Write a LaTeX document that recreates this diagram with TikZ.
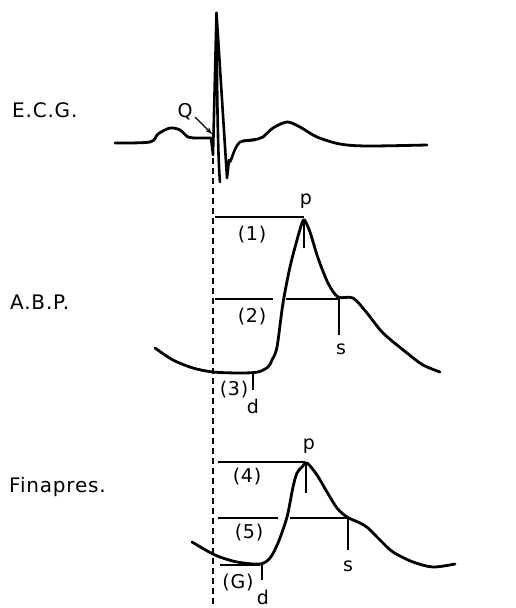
\documentclass[tikz,border=0pt]{standalone}
\usepackage{fontspec}
\setmainfont{DejaVu Sans}[LetterSpace=4]
\usetikzlibrary{arrows.meta}
\begin{document}
\begin{tikzpicture}[x=1pt,y=-1pt,
  trace/.style={line width=2.8pt,line join=round,line cap=round},
  spike/.style={line width=2.6pt,line join=round,line cap=round},
  fine/.style={line width=1.1pt},
  guide/.style={line width=1.1pt,dash pattern=on 6pt off 4pt},
  lbl/.style={font=\fontsize{19}{19}\selectfont,inner sep=0pt},
  side/.style={font=\fontsize{20}{20}\selectfont,inner sep=0pt,anchor=west}]
\useasboundingbox (0,0) rectangle (515,608);
% side labels
\node[side] (ecg) at (12,110) {E.C.G.};
\node[side] (abp) at (10,302) {A.B.P.};
\node[side] (fin) at (9,487) {Finapres.};
% dashed guide
\coordinate (gtop) at (213,158);
\coordinate (gbot) at (213,608);
\draw[guide] (gtop) -- (gbot);
% ECG
\draw[trace] plot[smooth,tension=0.5] coordinates {(115,143) (150,142) (158,134) (170,128) (180,130) (188,137) (197,138) (211,138)};
\draw[spike] (211,138) -- (213,155) -- (216.5,13) -- (227,178) -- (229,160) to[out=-80,in=180] (243,141) -- (255,140);
\draw[spike] (216.5,13) .. controls (217,100) and (218,160) .. (220,182);
\draw[trace] plot[smooth,tension=0.5] coordinates {(243,141) (258,139) (263,137) (273,128) (287,122) (300,127) (317,137) (340,144) (367,146) (427,145)};
\node[lbl] (q) at (185,112) {Q};
\coordinate (qa) at (195,117);
\coordinate (qb) at (212,134);
\draw[line width=1.3pt,-{Stealth[length=7pt,width=5pt]}] (qa) -- (qb);
% ABP
\draw[trace] plot[smooth,tension=0.5] coordinates {(155,348) (173,360) (193,368) (213,372) (240,373) (258,372) (268,367) (272,360) (277,347) (283,303) (290,267) (297,240) (302,223) (304.5,220) (310,232) (318,258) (328,283) (338,297) (353,298) (367,313) (383,333) (407,353) (423,365) (440,372)};
\draw[fine] (215,217) -- (304,217);
\draw[fine] (304,220) -- (304,248);
\draw[fine] (215,299) -- (273,299);
\draw[fine] (286,299) -- (339,299);
\draw[fine] (339,299) -- (339,335);
\draw[fine] (253,373) -- (253,390);
\node[lbl] (p1) at (306,201) {p};
\node[lbl] (l1) at (252,235) {(1)};
\node[lbl] (l2) at (252,317) {(2)};
\node[lbl] (s1) at (341,349) {s};
\node[lbl] (l3) at (234,390) {(3)};
\node[lbl] (d1) at (253,406) {d};
% Finapres
\draw[trace] plot[smooth,tension=0.5] coordinates {(192,542) (215,555) (237,562) (260,564) (270,558) (278,543) (287,517) (293,487) (297,473) (302,467) (307,463) (317,475) (327,492) (337,508) (347,517) (360,523) (368,528) (380,540) (393,552) (413,562) (433,567) (455,564)};
\draw[fine] (218,462) -- (305,462);
\draw[fine] (306,463) -- (306,493);
\draw[fine] (218,518) -- (278,518);
\draw[fine] (290,518) -- (348,518);
\draw[fine] (348,518) -- (348,550);
\draw[fine] (220,565) -- (260,565);
\draw[fine] (262,565) -- (262,580);
\node[lbl] (p2) at (309,446) {p};
\node[lbl] (l4) at (247,477) {(4)};
\node[lbl] (l5) at (249,533) {(5)};
\node[lbl] (s2) at (348,566) {s};
\node[lbl] (l6) at (238,583) {(G)};
\node[lbl] (d2) at (263,597) {d};
\end{tikzpicture}
\end{document}
